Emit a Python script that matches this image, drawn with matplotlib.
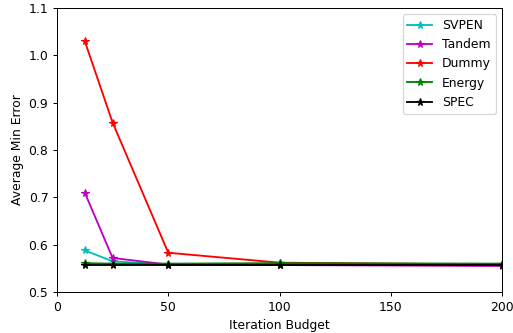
import matplotlib
matplotlib.use("Agg")
import matplotlib.pyplot as plt

# iteration budgets
budgets = [12.5, 25, 50, 100, 200]

# average min error per method
svpen = [0.588, 0.565, 0.558, 0.558, 0.558]
tandem = [0.710, 0.572, 0.558, 0.557, 0.555]
dummy = [1.030, 0.858, 0.583, 0.562, 0.558]
energy = [0.561, 0.560, 0.560, 0.561, 0.560]
spec = [0.558, 0.558, 0.558, 0.558, 0.558]

fig, ax = plt.subplots(figsize=(513 / 89, 333 / 89), dpi=89)

ax.plot(budgets, svpen, "c*-", label="SVPEN")
ax.plot(budgets, tandem, "m*-", label="Tandem")
ax.plot(budgets, dummy, "r*-", label="Dummy")
ax.plot(budgets, energy, "g*-", label="Energy")
ax.plot(budgets, spec, "k*-", label="SPEC")

ax.set_xlim(0, 200)
ax.set_ylim(0.5, 1.1)
ax.set_xticks([0, 50, 100, 150, 200])
ax.set_xlabel("Iteration Budget")
ax.set_ylabel("Average Min Error")
ax.legend(loc="upper right")

fig.subplots_adjust(left=0.111, right=0.979, top=0.976, bottom=0.123)
fig.savefig("out.png", dpi=89)
